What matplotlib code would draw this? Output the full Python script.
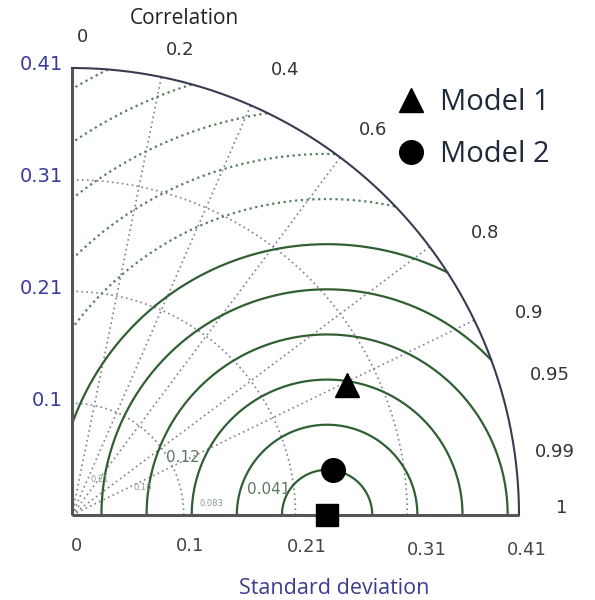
import numpy as np
import matplotlib
matplotlib.use("Agg")
import matplotlib.pyplot as plt
from matplotlib.lines import Line2D

# ---------------- data ----------------
std_max = 0.41
ref_std = 0.234
model_names = ["Model 1", "Model 2"]
model_std = [0.279, 0.243]
model_corr = [0.904, 0.9855]
model_markers = ["^", "o"]

std_ticks = [0, 0.1025, 0.205, 0.3075, 0.41]
std_tick_labels = ["0", "0.1", "0.21", "0.31", "0.41"]
corr_ticks = [0, 0.2, 0.4, 0.6, 0.8, 0.9, 0.95, 0.99, 1]
corr_tick_labels = ["0", "0.2", "0.4", "0.6", "0.8", "0.9", "0.95", "0.99", "1"]
corr_grid = [0.2, 0.4, 0.6, 0.8, 0.9]
rms_step = 0.0414
rms_solid = [1, 2, 3, 4, 5, 6]
rms_dotted = [7, 8, 9, 10, 11]
rms_labels = ["0.041", "0.083", "0.12", "0.16", "0.21"]

# ---------------- layout ----------------
W, H = 595, 600
ox, oy = 72, 515          # pixel position of the origin
s = std_max / 447.0       # data units per pixel


def P(px, py):
    return (px - ox) * s, (oy - py) * s


fig = plt.figure(figsize=(W / 100, H / 100), dpi=100)
ax = fig.add_axes([0, 0, 1, 1])
ax.set_xlim(-ox * s, (W - ox) * s)
ax.set_ylim(-(H - oy) * s, oy * s)
ax.axis("off")

green = "#2f5f33"
dgreen = "#55805a"
grey = "#80808c"

# RMS arcs centred on the reference point
th = np.linspace(0, np.pi, 1200)
for k in rms_solid + rms_dotted:
    r = k * rms_step
    x = ref_std + r * np.cos(th)
    y = r * np.sin(th)
    m = (np.hypot(x, y) > std_max) | (x < 0)
    x = np.where(m, np.nan, x)
    y = np.where(m, np.nan, y)
    if k in rms_solid:
        ax.plot(x, y, color=green, lw=1.6, zorder=2)
    else:
        ax.plot(x, y, color=dgreen, lw=1.6, ls=(0, (1, 1.6)), zorder=2)

# std arcs (dotted)
ph = np.linspace(0, np.pi / 2, 400)
for r in std_ticks[1:-1]:
    ax.plot(r * np.cos(ph), r * np.sin(ph), color=grey, lw=1.2, ls=(0, (1, 2)), zorder=1)

# correlation radial lines
for c in corr_grid:
    a = np.arccos(c)
    ax.plot([0, std_max * np.cos(a)], [0, std_max * np.sin(a)], color=grey, lw=1.2,
            ls=(0, (1, 2)), zorder=1)

# outer arc and axes
ax.plot(std_max * np.cos(ph), std_max * np.sin(ph), color="#3a3a52", lw=1.5, zorder=3)
ax.plot([0, std_max], [0, 0], color="#555555", lw=2.2, zorder=3, solid_capstyle="butt")
ax.plot([0, 0], [0, std_max], color="#555555", lw=2.2, zorder=3, solid_capstyle="butt")

# std tick labels
ylab_x = P(63, 0)[0]
for v, lab in zip(std_ticks, std_tick_labels):
    if v == 0:
        continue
    ax.text(ylab_x, v + 3 * s, lab, ha="right", va="center", fontsize=14,
            family="DejaVu Sans", color="#3b3b9a")
x_label_px = [76, 190, 307, 427, 527]
x_label_py = [546, 546, 547, 550, 550]
for px, py, lab in zip(x_label_px, x_label_py, std_tick_labels):
    xx, yy = P(px, py)
    ax.text(xx, yy, lab, ha="center", va="center", fontsize=13,
            family="DejaVu Sans", color="#454545")

# correlation tick labels (label radius / angle in pixels / degrees)
corr_lab_r = [478, 477, 493, 489, 500, 500, 498, 487, 490]
corr_lab_a = [88.7, 76.9, 64.4, 52.0, 34.3, 23.8, 16.3, 7.4, 0.8]
for rp, a, lab in zip(corr_lab_r, corr_lab_a, corr_tick_labels):
    r = rp * s
    ax.text(r * np.cos(np.radians(a)), r * np.sin(np.radians(a)), lab, ha="center",
            va="center", fontsize=13, family="DejaVu Sans", color="#333333")

# rms labels
rms_pos = [(269, 490), (211, 504), (183, 458), (143, 488), (100, 480)]
rms_size = [11, 6, 11, 6, 6]
rms_col = ["#5d7a60", "#8a9c8a", "#5d7a60", "#8a9c8a", "#8a9c8a"]
for (px, py), lab, fs, col in zip(rms_pos, rms_labels, rms_size, rms_col):
    xx, yy = P(px, py)
    ax.text(xx, yy, lab, ha="center", va="center", fontsize=fs, family="DejaVu Sans",
            color=col, zorder=4)

# axis titles
xx, yy = P(184, 18)
ax.text(xx, yy, "Correlation", ha="center", va="center", fontsize=15,
        family="Open Sans", color="#222222")
xx, yy = P(334, 588)
ax.text(xx, yy, "Standard deviation", ha="center", va="center", fontsize=15.5,
        family="Open Sans", color="#3d3d8f")

# reference point
ax.plot([ref_std], [0], marker="s", ms=16, color="black", ls="none", zorder=6,
        clip_on=False)

# models
handles = []
for name, sd, c, mk in zip(model_names, model_std, model_corr, model_markers):
    a = np.arccos(c)
    ax.plot([sd * np.cos(a)], [sd * np.sin(a)], marker=mk, ms=17, color="black",
            ls="none", zorder=6)
    handles.append(Line2D([], [], marker=mk, ms=17, color="black", ls="none"))

leg = ax.legend(handles, model_names, loc="upper left",
                bbox_to_anchor=(396 / W, 1 - 88 / H), bbox_transform=fig.transFigure,
                frameon=False, prop={"family": "Open Sans", "size": 21},
                handlelength=1.0, handletextpad=0.5, labelspacing=0.8,
                borderpad=0, borderaxespad=0)
for t in leg.get_texts():
    t.set_color("#1e2a3a")

fig.savefig("out.png", dpi=100, facecolor="white")
